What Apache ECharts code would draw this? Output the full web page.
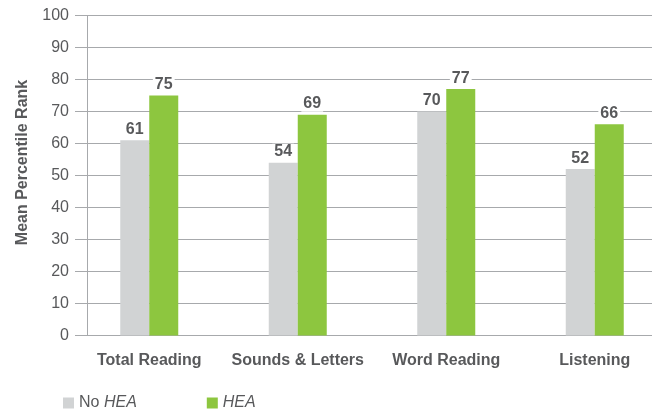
<!DOCTYPE html>
<html>
<head>
<meta charset="utf-8">
<script src="https://cdn.jsdelivr.net/npm/echarts@6/dist/echarts.min.js"></script>
<style>
  html, body { margin: 0; padding: 0; background: #fff; }
  #main { width: 657px; height: 413px; }
</style>
</head>
<body>
<div id="main"></div>
<script>
// data
var categories = ['Total Reading', 'Sounds & Letters', 'Word Reading', 'Listening'];
var noHea = [61, 54, 70, 52];
var hea = [75, 69, 77, 66];
var yTicks = { min: 0, max: 100, interval: 10 };

var textColor = '#58595b';
var fontFamily = '"Liberation Sans", Arial, sans-serif';

var chart = echarts.init(document.getElementById('main'));

var valueLabel = {
  show: true,
  position: 'top',
  distance: 3,
  color: textColor,
  fontFamily: fontFamily,
  fontWeight: 'bold',
  fontSize: 16,
  backgroundColor: '#fff',
  padding: [0, 2, 0, 2]
};

chart.setOption({
  animation: false,
  // grid 0 carries the gridlines, grid 1 the bars (a bit wider, so the groups sit like the original)
  grid: [
    { left: 75, right: 5, top: 15.5, bottom: 77.5, outerBoundsMode: 'none' },
    { left: 75, right: -12, top: 15.5, bottom: 77.5, outerBoundsMode: 'none' }
  ],
  legend: {
    left: 58,
    top: 390,
    itemWidth: 11,
    itemHeight: 11,
    itemGap: 70,
    icon: 'rect',
    data: ['No HEA', 'HEA'],
    formatter: function (name) {
      return name === 'No HEA' ? '{n|No }{i|HEA}' : '{i|HEA}';
    },
    textStyle: {
      color: textColor,
      fontFamily: fontFamily,
      fontSize: 16,
      rich: {
        n: { color: textColor, fontFamily: fontFamily, fontSize: 16 },
        i: { color: textColor, fontFamily: fontFamily, fontSize: 16, fontStyle: 'italic' }
      }
    }
  },
  xAxis: [
    {
      gridIndex: 0,
      type: 'category',
      data: categories,
      axisLine: { show: false },
      axisTick: { show: false },
      axisLabel: { show: false }
    },
    {
      gridIndex: 1,
      type: 'category',
      data: categories,
      axisLine: { show: false },
      axisTick: { show: false },
      axisLabel: {
        interval: 0,
        margin: 17,
        color: textColor,
        fontFamily: fontFamily,
        fontWeight: 'bold',
        fontSize: 16
      }
    }
  ],
  yAxis: [
    {
      gridIndex: 0,
      type: 'value',
      min: yTicks.min,
      max: yTicks.max,
      interval: yTicks.interval,
      offset: -12,
      name: 'Mean Percentile Rank',
      nameLocation: 'middle',
      nameGap: 56,
      nameTextStyle: {
        color: textColor,
        fontFamily: fontFamily,
        fontWeight: 'bold',
        fontSize: 16,
        padding: [0, 0, 0, 26]
      },
      axisLine: { show: true, lineStyle: { color: '#a7a9ac', width: 1 } },
      axisTick: { show: false },
      axisLabel: {
        margin: 18,
        color: textColor,
        fontFamily: fontFamily,
        fontSize: 16
      },
      splitLine: { show: true, lineStyle: { color: '#a7a9ac', width: 1.2 } }
    },
    {
      gridIndex: 1,
      type: 'value',
      min: yTicks.min,
      max: yTicks.max,
      show: false,
      splitLine: { show: false }
    }
  ],
  series: [
    {
      name: 'No HEA',
      type: 'bar',
      xAxisIndex: 1,
      yAxisIndex: 1,
      data: noHea,
      barWidth: 29,
      barGap: 0,
      itemStyle: { color: '#d1d3d4' },
      label: valueLabel
    },
    {
      name: 'HEA',
      type: 'bar',
      xAxisIndex: 1,
      yAxisIndex: 1,
      data: hea,
      barWidth: 29,
      barGap: 0,
      itemStyle: { color: '#8dc63f' },
      label: valueLabel
    }
  ]
});
</script>
</body>
</html>
